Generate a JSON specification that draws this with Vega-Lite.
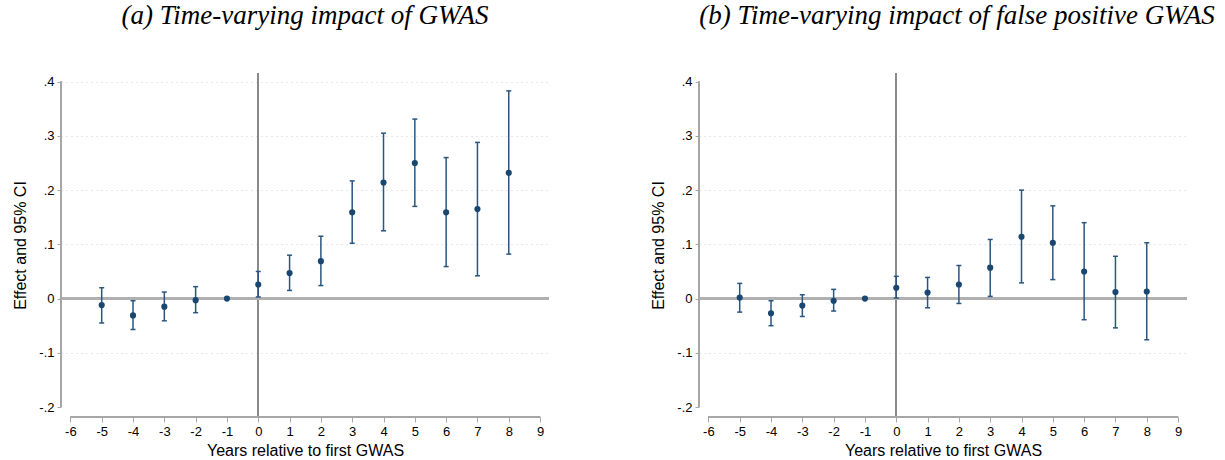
{
  "$schema": "https://vega.github.io/schema/vega-lite/v6.json",
  "background": "white",
  "padding": {"left": 12, "top": 2, "right": 5, "bottom": 5},
  "spacing": 150,
  "bounds": "flush",
  "config": {
    "view": {"stroke": null},
    "axis": {
      "labelFont": "Liberation Sans", "labelFontSize": 13, "labelColor": "#000000", "labelOverlap": false,
      "titleFont": "Liberation Sans", "titleFontSize": 16, "titleFontWeight": "normal", "titleColor": "#000000",
      "tickColor": "#a6a6a6", "tickSize": 4, "domain": false
    },
    "axisX": {"labelOverlap": false, "labelSeparation": 0, "tickSize": 5, "labelPadding": 3, "titlePadding": 4, "grid": false, "tickCount": 16, "tickMinStep": 1,
              "labelExpr": "datum.value < 0 ? '-' + abs(datum.value) : '' + datum.value"},
    "title": {"font": "Liberation Serif", "fontSize": 27, "fontStyle": "italic", "fontWeight": "normal", "color": "#000000", "anchor": "middle", "baseline": "alphabetic", "offset": 42}
  },
  "datasets": {
    "a": [
      {"t": -5, "b": -0.012, "lo": -0.045, "hi": 0.020},
      {"t": -4, "b": -0.031, "lo": -0.057, "hi": -0.004},
      {"t": -3, "b": -0.015, "lo": -0.041, "hi": 0.012},
      {"t": -2, "b": -0.003, "lo": -0.026, "hi": 0.022},
      {"t": -1, "b": 0.0, "lo": null, "hi": null},
      {"t": 0, "b": 0.026, "lo": 0.003, "hi": 0.050},
      {"t": 1, "b": 0.047, "lo": 0.015, "hi": 0.080},
      {"t": 2, "b": 0.069, "lo": 0.024, "hi": 0.115},
      {"t": 3, "b": 0.159, "lo": 0.102, "hi": 0.217},
      {"t": 4, "b": 0.214, "lo": 0.125, "hi": 0.305},
      {"t": 5, "b": 0.250, "lo": 0.170, "hi": 0.331},
      {"t": 6, "b": 0.159, "lo": 0.059, "hi": 0.260},
      {"t": 7, "b": 0.165, "lo": 0.042, "hi": 0.288},
      {"t": 8, "b": 0.232, "lo": 0.082, "hi": 0.383}
    ],
    "b": [
      {"t": -5, "b": 0.002, "lo": -0.025, "hi": 0.028},
      {"t": -4, "b": -0.027, "lo": -0.050, "hi": -0.004},
      {"t": -3, "b": -0.013, "lo": -0.033, "hi": 0.007},
      {"t": -2, "b": -0.004, "lo": -0.023, "hi": 0.017},
      {"t": -1, "b": 0.0, "lo": null, "hi": null},
      {"t": 0, "b": 0.020, "lo": 0.001, "hi": 0.041},
      {"t": 1, "b": 0.011, "lo": -0.017, "hi": 0.039},
      {"t": 2, "b": 0.026, "lo": -0.009, "hi": 0.061},
      {"t": 3, "b": 0.057, "lo": 0.004, "hi": 0.109},
      {"t": 4, "b": 0.114, "lo": 0.029, "hi": 0.200},
      {"t": 5, "b": 0.103, "lo": 0.035, "hi": 0.171},
      {"t": 6, "b": 0.050, "lo": -0.039, "hi": 0.140},
      {"t": 7, "b": 0.012, "lo": -0.054, "hi": 0.078},
      {"t": 8, "b": 0.013, "lo": -0.076, "hi": 0.103}
    ]
  },
  "hconcat": [
    {
      "width": 488, "height": 344,
      "title": {"text": "(a) Time-varying impact of GWAS"},
      "data": {"name": "a"},
      "layer": [
        {"mark": {"type": "rule", "color": "#8a8a8a", "strokeWidth": 1.2}, "encoding": {"x": {"datum": 0, "type": "quantitative", "scale": {"domain": [-6.3, 9.285], "nice": false, "zero": false}, "axis": {"tickCount": 16, "title": "Years relative to first GWAS"}}}},
        {"mark": {"type": "rule", "color": "#b0b0b0", "strokeWidth": 2}, "encoding": {"y": {"datum": 0, "type": "quantitative"}}},
        {"mark": {"type": "rule", "color": "#a6a6a6", "strokeWidth": 1.2}, "encoding": {"x": {"datum": -6.3, "type": "quantitative"}, "y": {"datum": -0.2, "type": "quantitative"}, "y2": {"datum": 0.4}}},
        {"mark": {"type": "rule", "color": "#a6a6a6", "strokeWidth": 1.2}, "encoding": {"y": {"datum": -0.2184, "type": "quantitative"}, "x": {"datum": -6, "type": "quantitative"}, "x2": {"datum": 9}}},
        {"mark": {"type": "rule", "color": "#2a5580", "strokeWidth": 1.5}, "encoding": {"x": {"field": "t", "type": "quantitative"}, "y": {"field": "lo", "type": "quantitative"}, "y2": {"field": "hi"}}},
        {"mark": {"type": "tick", "orient": "horizontal", "color": "#2a5580", "size": 5, "thickness": 1.5, "opacity": 1}, "encoding": {"x": {"field": "t", "type": "quantitative"}, "y": {"field": "lo", "type": "quantitative"}}},
        {"mark": {"type": "tick", "orient": "horizontal", "color": "#2a5580", "size": 5, "thickness": 1.5, "opacity": 1}, "encoding": {"x": {"field": "t", "type": "quantitative"}, "y": {"field": "hi", "type": "quantitative"}}},
        {"mark": {"type": "circle", "color": "#1a476f", "size": 38, "opacity": 1},
         "encoding": {
           "x": {"field": "t", "type": "quantitative", "scale": {"domain": [-6.3, 9.285], "nice": false, "zero": false},
                 "axis": {"tickCount": 16, "title": "Years relative to first GWAS"}},
           "y": {"field": "b", "type": "quantitative", "scale": {"domain": [-0.2184, 0.416], "nice": false, "zero": false},
                 "axis": {"values": [-0.2,-0.1,0,0.1,0.2,0.3,0.4], "labelOverlap": false, "labelExpr": "datum.value == 0 ? '0' : (datum.value < 0 ? '-' : '') + replace(format(abs(datum.value), '.1f'), '0.', '.')",
                          "grid": true, "gridDash": [1, 4], "gridColor": "#cfcfcf", "gridWidth": 1,
                          "gridOpacity": {"condition": {"test": "datum.value < -0.15 || datum.value == 0", "value": 0}, "value": 1},
                          "labelPadding": 3, "titlePadding": 10, "title": "Effect and 95% CI"}}
         }}
      ]
    },
    {
      "width": 488, "height": 344,
      "title": {"text": "(b) Time-varying impact of false positive GWAS", "dx": 14},
      "data": {"name": "b"},
      "layer": [
        {"mark": {"type": "rule", "color": "#8a8a8a", "strokeWidth": 1.2}, "encoding": {"x": {"datum": 0, "type": "quantitative", "scale": {"domain": [-6.3, 9.285], "nice": false, "zero": false}, "axis": {"tickCount": 16, "title": "Years relative to first GWAS"}}}},
        {"mark": {"type": "rule", "color": "#b0b0b0", "strokeWidth": 2}, "encoding": {"y": {"datum": 0, "type": "quantitative"}}},
        {"mark": {"type": "rule", "color": "#a6a6a6", "strokeWidth": 1.2}, "encoding": {"x": {"datum": -6.3, "type": "quantitative"}, "y": {"datum": -0.2, "type": "quantitative"}, "y2": {"datum": 0.4}}},
        {"mark": {"type": "rule", "color": "#a6a6a6", "strokeWidth": 1.2}, "encoding": {"y": {"datum": -0.2184, "type": "quantitative"}, "x": {"datum": -6, "type": "quantitative"}, "x2": {"datum": 9}}},
        {"mark": {"type": "rule", "color": "#2a5580", "strokeWidth": 1.5}, "encoding": {"x": {"field": "t", "type": "quantitative"}, "y": {"field": "lo", "type": "quantitative"}, "y2": {"field": "hi"}}},
        {"mark": {"type": "tick", "orient": "horizontal", "color": "#2a5580", "size": 5, "thickness": 1.5, "opacity": 1}, "encoding": {"x": {"field": "t", "type": "quantitative"}, "y": {"field": "lo", "type": "quantitative"}}},
        {"mark": {"type": "tick", "orient": "horizontal", "color": "#2a5580", "size": 5, "thickness": 1.5, "opacity": 1}, "encoding": {"x": {"field": "t", "type": "quantitative"}, "y": {"field": "hi", "type": "quantitative"}}},
        {"mark": {"type": "circle", "color": "#1a476f", "size": 38, "opacity": 1},
         "encoding": {
           "x": {"field": "t", "type": "quantitative", "scale": {"domain": [-6.3, 9.285], "nice": false, "zero": false},
                 "axis": {"tickCount": 16, "title": "Years relative to first GWAS"}},
           "y": {"field": "b", "type": "quantitative", "scale": {"domain": [-0.2184, 0.416], "nice": false, "zero": false},
                 "axis": {"values": [-0.2,-0.1,0,0.1,0.2,0.3,0.4], "labelOverlap": false, "labelExpr": "datum.value == 0 ? '0' : (datum.value < 0 ? '-' : '') + replace(format(abs(datum.value), '.1f'), '0.', '.')",
                          "grid": true, "gridDash": [1, 4], "gridColor": "#cfcfcf", "gridWidth": 1,
                          "gridOpacity": {"condition": {"test": "datum.value < -0.15 || datum.value == 0 || datum.value > 0.35", "value": 0}, "value": 1},
                          "labelPadding": 3, "titlePadding": 10, "title": "Effect and 95% CI"}}
         }}
      ]
    }
  ]
}
